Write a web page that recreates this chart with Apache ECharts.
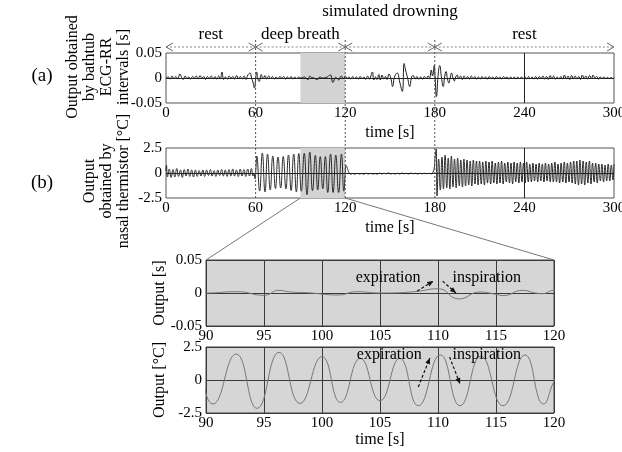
<!DOCTYPE html>
<html>
<head>
<meta charset="utf-8">
<script src="https://cdn.jsdelivr.net/npm/echarts@6/dist/echarts.min.js"></script>
<style>
html, body { margin: 0; padding: 0; background: #fff; }
#chart { width: 622px; height: 452px; }
</style>
</head>
<body>
<div id="chart"></div>
<script>
// experiment phases [s]
var phaseBounds = [0, 60, 120, 180, 300];
var phaseNames = ['rest', 'deep breath', '', 'rest'];
var zoomRange = [90, 120];

// ECG-RR interval output [s], pairs of [time s, value s]
var rrRest = [[0,0],[1.5,0.002],[2.8,-0.002],[4.0,0.004],[5.2,-0.001],[6.5,0.003],[7.8,-0.002],[9.3,0.008],[10.5,0.001],
  [11.5,-0.003],[12.8,0.004],[14,-0.001],[15.2,0.002],[16.5,-0.002],[17.8,0.003],[19.0,0.0],[20.3,0.004],[21.5,-0.002],
  [22.8,0.005],[24,0.0],[25.3,0.003],[26.5,-0.003],[27.8,0.003],[29,-0.001],[30.3,0.004],[31.5,-0.002],[32.8,0.003],
  [34,-0.002],[35.3,0.004],[36.3,-0.002],[37.5,0.012],[38.6,-0.003],[39.8,0.002],[41,-0.002],[42.3,0.004],[43.5,0.0],
  [44.8,0.003],[46,-0.002],[47.3,0.005],[48.5,-0.001],[49.8,0.003],[51,-0.002],[52.3,0.004],[53.5,-0.003],[54.8,0.006],
  [56.3,0.01],[57.3,0.0],[58.2,-0.008],[59.2,-0.02]];
var rrDeep = [[60.1,0.0],[60.7,0.012],[61.6,-0.002],[62.4,-0.007],[63.8,0.007],[65,-0.002],[66.3,0.005],[67.5,-0.002],
  [68.8,0.004],[70,-0.001],[71.3,0.003],[72.5,-0.002],[73.8,0.002],[75,-0.002],[76.3,0.003],[77.5,0.0],[78.8,0.003],
  [80,-0.002],[81.3,0.002],[82.5,-0.001],[83.8,0.003],[85,-0.002],[86.3,0.002],[87.5,-0.001],[88.8,0.002],
  [90,0.0],[92.7,0.002],[95.0,-0.0035],[96.3,0.004],[97.3,0.0015],[98.7,0.0005],[101.4,-0.003],[103.0,0.002],
  [105.0,0.0],[108.0,0.002],[110.0,0.0065],[111.8,-0.009],[113.6,0.0015],[115.0,-0.002],[115.6,-0.004],[117.3,0.004],
  [118.4,0.0],[119.0,-0.001],[120.0,0.004]];
var rrDrown = [[121.3,-0.001],[122.5,0.002],[123.8,-0.002],[125,0.003],[126.3,-0.001],[127.5,0.002],[128.8,-0.002],
  [130,0.003],[131.3,-0.001],[132.5,0.002],[133.8,-0.003],[135,0.004],[136.3,-0.002],[137.2,0.004],[138.2,0.012],
  [139.2,-0.004],[140.3,0.002],[141.3,-0.003],[142.5,0.007],[143.5,-0.004],[144.7,0.006],[145.8,-0.002],[147,0.003],
  [148,-0.003],[149.3,0.008],[150.5,0.0],[151.8,-0.017],[153,0.002],[154.8,0.01],[156.5,-0.008],[158.2,-0.027],
  [159.5,0.029],[160.4,0.016],[161.8,0.0],[163.2,-0.017],[164.5,0.002],[165.5,0.005],[166.8,-0.002],[168,0.003],
  [169.3,-0.002],[170.5,0.002],[171.8,-0.002],[173,0.003],[174.3,-0.001],[175.5,0.004],[176.5,0.0],[177.6,0.016],
  [178.5,0.004],[179.6,0.025]];
var rrRecovery = [[180.2,0.0],[181.1,-0.037],[182.2,0.005],[183.3,0.025],[184.5,0.0],[185.6,-0.017],[186.6,0.002],
  [187.5,0.013],[188.5,-0.002],[189.4,-0.01],[190.4,0.002],[191.2,0.01],[192.2,0.0],[193.1,-0.006],[194,0.002],
  [195,0.006],[196,-0.002],[197.2,0.004],[198.4,-0.003],[199.6,0.004],[200.8,-0.002],[202,0.003],[203.2,-0.002],
  [204.4,0.004],[205.6,-0.002],[206.8,0.003],[208,-0.002],[209.2,0.002],[210.4,-0.002],[211.6,0.003],[212.8,-0.001],
  [214,0.002],[215.2,-0.002],[216.4,0.003],[217.6,-0.001],[218.8,0.002],[220,-0.002],[221.2,0.003],[222.4,-0.001],
  [223.6,0.002],[224.8,-0.002],[226,0.003],[227.2,0.0],[228.4,0.002],[229.6,-0.002],[230.8,0.002],[232,-0.001],
  [233.2,0.002],[234.4,-0.002],[235.6,0.002],[236.8,-0.001],[238,0.002],[239.2,-0.001],[240.4,0.002],[241.6,-0.002],
  [242.8,0.003],[244,-0.001],[245.2,0.002],[246.4,-0.002],[247.6,0.003],[248.8,-0.002],[250,0.003],[251.2,-0.001],
  [252.4,0.004],[253.6,-0.002],[254.8,0.003],[256,-0.003],[257.2,0.005],[258.4,-0.001],[259.6,0.004],[260.8,-0.002],
  [262,0.002],[263.2,-0.002],[264.4,0.003],[265.6,-0.002],[266.8,0.006],[268,-0.002],[269.2,0.004],[270.4,-0.003],
  [271.6,0.005],[272.8,-0.001],[274,0.004],[275.2,-0.002],[276.4,0.003],[277.6,-0.003],[278.8,0.006],[280,-0.001],
  [281.2,0.004],[282.4,-0.002],[283.6,0.005],[284.8,-0.002],[286,0.006],[287.2,0.0],[288.4,0.003],[289.6,-0.002],
  [290.8,0.002],[292,-0.001],[293.2,0.002],[294.4,-0.001],[295.6,0.001],[296.8,-0.001],[298,0.001],[299.2,-0.001],[300,0.0]];

// nasal thermistor output [degC], pairs of [time s, value]
var thermRest = [[0,0.2],[0.3,0.8],[1.0,-0.4],[2.2,0.4],[3.4,-0.45],[4.7,0.35],[5.9,-0.4],[7.2,0.45],[8.4,-0.35],
  [9.7,0.3],[10.9,-0.45],[12.2,0.35],[13.4,-0.3],[14.7,0.4],[15.9,-0.35],[17.2,0.3],[18.4,-0.4],[19.7,0.3],[20.9,-0.35],
  [22.2,0.25],[23.4,-0.3],[24.7,0.3],[25.9,-0.35],[27.2,0.3],[28.4,-0.25],[29.7,0.35],[30.9,-0.3],[32.2,0.25],
  [33.4,-0.35],[34.7,0.3],[35.9,-0.25],[37.2,0.35],[38.4,-0.3],[39.7,0.3],[40.9,-0.35],[42.2,0.35],[43.4,-0.3],
  [44.7,0.4],[45.9,-0.3],[47.2,0.3],[48.4,-0.35],[49.7,0.4],[50.9,-0.3],[52.2,0.35],[53.4,-0.35],[54.7,0.4],
  [55.9,-0.3],[57.2,0.45],[58.3,-0.3],[58.9,0.0],[59.6,-0.6]];
var thermDeep = [[60.2,0.4],[60.8,1.7],[62.7,-1.8],[64.5,2.0],[66.3,-1.9],[68.0,1.9],[69.8,-1.7],[71.5,1.7],[73.3,-1.55],
  [75.0,1.6],[76.8,-1.5],[78.5,1.65],[80.3,-1.6],[82.0,1.8],[83.8,-1.75],[85.5,1.9],[87.3,-1.9],[88.9,1.95],
  [90.6,-1.82],[92.6,1.97],[94.4,-2.15],[96.3,2.1],[98.1,-1.77],[100.0,1.77],[101.6,-1.7],[103.3,1.64],[105.0,-1.57],
  [106.7,1.64],[108.3,-1.95],[110.2,1.9],[111.9,-1.95],[113.7,1.8],[115.6,-1.95],[117.5,1.9],[119.1,-1.82],[120.0,-0.1]];
var thermDrown = [[120.6,0.75],[121.5,0.45],[122.6,0.05],[123.8,-0.12],[125.0,-0.05],[126.5,-0.12],[128,-0.03],
  [129.5,-0.1],[131,-0.05],[132.5,-0.12],[134,-0.02],[135.5,-0.1],[137,-0.04],[138.5,-0.1],[140,-0.06],[141.5,-0.12],
  [143,0.0],[144.5,-0.1],[146,-0.03],[147.5,-0.08],[149,0.02],[150.5,-0.1],[152,-0.04],[153.5,-0.1],[155,-0.02],
  [156.5,-0.1],[158,0.0],[159.5,-0.08],[161,-0.03],[162.5,-0.1],[164,0.0],[165.5,-0.08],[167,-0.02],[168.5,-0.1],
  [170,-0.03],[171.5,-0.08],[173,-0.02],[174.5,-0.08],[176,-0.03],[177.5,-0.08],[178.8,0.1],[179.6,0.5]];
var thermRecovery = [[180.2,1.6],[180.9,2.4],[181.5,-2.3],[182.6,1.4],[183.7,-1.7],[184.8,1.6],[185.8,-1.6],[186.9,1.8],
  [188.0,-1.5],[189.0,1.5],[190.1,-1.6],[191.1,1.7],[192.2,-1.4],[193.2,1.4],[194.3,-1.5],[195.3,1.5],[196.4,-1.3],
  [197.4,1.3],[198.5,-1.4],[199.5,1.4],[200.6,-1.3],[201.6,1.3],[202.7,-1.2],[203.7,1.2],[204.8,-1.3],[205.8,1.3],
  [206.9,-1.1],[207.9,1.2],[209.0,-1.2],[210.0,1.2],[211.1,-1.1],[212.1,1.1],[213.2,-1.2],[214.2,1.2],[215.3,-1.0],
  [216.3,1.1],[217.4,-1.1],[218.4,1.2],[219.5,-1.0],[220.5,1.0],[221.6,-1.1],[222.6,1.1],[223.7,-1.0],[224.7,1.2],
  [225.8,-1.1],[226.8,1.0],[227.9,-0.9],[228.9,1.1],[230.0,-1.0],[231.0,1.0],[232.1,-1.1],[233.1,1.1],[234.2,-0.9],
  [235.2,1.0],[236.3,-1.0],[237.3,1.1],[238.4,-0.9],[239.4,1.0],[240.5,-1.0],[241.5,1.1],[242.6,-0.9],[243.6,0.9],
  [244.7,-0.9],[245.7,1.0],[246.8,-0.8],[247.8,0.9],[248.9,-0.9],[249.9,1.0],[251.0,-0.8],[252.0,0.9],[253.1,-0.9],
  [254.1,1.0],[255.2,-0.8],[256.2,0.9],[257.3,-0.9],[258.3,1.0],[259.4,-0.9],[260.4,1.1],[261.5,-0.9],[262.5,0.9],
  [263.6,-1.0],[264.6,1.0],[265.7,-0.9],[266.7,1.1],[267.8,-1.0],[268.8,1.0],[269.9,-0.9],[270.9,1.1],[272.0,-1.0],
  [273.0,1.2],[274.1,-1.1],[275.1,1.2],[276.2,-1.2],[277.2,1.3],[278.3,-1.1],[279.3,1.2],[280.4,-1.2],[281.4,1.1],
  [282.5,-1.0],[283.5,1.2],[284.6,-1.1],[285.6,1.0],[286.7,-0.9],[287.7,1.0],[288.8,-1.0],[289.8,0.9],[290.9,-0.8],
  [291.9,0.9],[293.0,-0.9],[294.0,0.8],[295.1,-0.8],[296.1,0.9],[297.2,-0.8],[298.2,0.8],[299.3,-0.7],[300,0.9]];

// annotation anchors in zoomed data coords: [t, v]
var rrExpArrow = [[108.2, 0.003], [109.6, 0.018]];
var rrInspArrow = [[110.4, 0.018], [111.55, 0.0]];
var thermExpArrow = [[108.3, -0.53], [109.3, 1.67]];
var thermInspArrow = [[111.0, 1.74], [111.9, -0.3]];

var rrData = rrRest.concat(rrDeep, rrDrown, rrRecovery);
var thermData = thermRest.concat(thermDeep, thermDrown, thermRecovery);

var FONT = '"Liberation Serif", "DejaVu Serif", serif';
var chart = echarts.init(document.getElementById('chart'));

function xAxisOf(grid, min, max, step, nameGap) {
  return {
    type: 'value', gridIndex: grid, min: min, max: max, interval: step,
    axisLine: { show: false }, axisTick: { show: false },
    axisLabel: { color: '#000', fontFamily: FONT, fontSize: 15, margin: 3 },
    splitLine: { show: grid >= 2, lineStyle: { color: '#3a3a3a', width: 1 } },
    name: nameGap ? 'time [s]' : '', nameLocation: 'middle', nameGap: nameGap || 0,
    nameTextStyle: { color: '#000', fontFamily: FONT, fontSize: 16 }
  };
}
function yAxisOf(grid, lim) {
  return {
    type: 'value', gridIndex: grid, min: -lim, max: lim, interval: lim,
    axisLine: { show: false }, axisTick: { show: false },
    axisLabel: { color: '#000', fontFamily: FONT, fontSize: 15, margin: 4 },
    splitLine: { show: grid >= 2, lineStyle: { color: '#3a3a3a', width: 1 } }
  };
}
var markLines = {
  silent: true, symbol: 'none', label: { show: false },
  lineStyle: { color: '#222', width: 1, type: 'solid' },
  data: [{ yAxis: 0 }, { xAxis: 240 }]
};
var shade = {
  silent: true, itemStyle: { color: '#d3d3d3' },
  data: [[{ xAxis: zoomRange[0] }, { xAxis: zoomRange[1] }]]
};

chart.setOption({
  animation: false,
  grid: [
    { left: 166, top: 53, width: 448, height: 50, show: true, borderColor: '#555', borderWidth: 1, outerBoundsMode: 'none' },
    { left: 166, top: 148, width: 448, height: 50, show: true, borderColor: '#555', borderWidth: 1, outerBoundsMode: 'none' },
    { left: 206, top: 260, width: 348, height: 66, show: true, backgroundColor: '#d6d6d6', borderColor: '#444', borderWidth: 1, outerBoundsMode: 'none' },
    { left: 206, top: 347, width: 348, height: 66, show: true, backgroundColor: '#d6d6d6', borderColor: '#444', borderWidth: 1, outerBoundsMode: 'none' }
  ],
  xAxis: [
    xAxisOf(0, 0, 300, 60, 22),
    xAxisOf(1, 0, 300, 60, 22),
    xAxisOf(2, zoomRange[0], zoomRange[1], 5, 0),
    xAxisOf(3, zoomRange[0], zoomRange[1], 5, 19)
  ],
  yAxis: [yAxisOf(0, 0.05), yAxisOf(1, 2.5), yAxisOf(2, 0.05), yAxisOf(3, 2.5)],
  series: [
    { type: 'line', xAxisIndex: 0, yAxisIndex: 0, data: rrData, smooth: true, showSymbol: false,
      lineStyle: { color: '#1a1a1a', width: 1 }, markLine: markLines, markArea: shade },
    { type: 'line', xAxisIndex: 1, yAxisIndex: 1, data: thermData, smooth: true, showSymbol: false,
      lineStyle: { color: '#2a2a2a', width: 1 }, markLine: markLines, markArea: shade },
    { type: 'line', xAxisIndex: 2, yAxisIndex: 2, data: rrData, smooth: true, showSymbol: false,
      lineStyle: { color: '#777', width: 1 }, z: 5 },
    { type: 'line', xAxisIndex: 3, yAxisIndex: 3, data: thermData, smooth: true, showSymbol: false,
      lineStyle: { color: '#777', width: 1 }, z: 5 }
  ]
});

function txt(str, x, y, size, rot) {
  return { type: 'text', x: x, y: y, rotation: rot || 0, z: 100,
    style: { text: str, font: size + 'px ' + FONT, fill: '#000',
      align: 'center', verticalAlign: 'middle', textAlign: 'center', textVerticalAlign: 'middle' } };
}
function arrowHeadPts(x0, y0, x1, y1, len, half) {
  var a = Math.atan2(y1 - y0, x1 - x0);
  return [
    [x1 - len * Math.cos(a) + half * Math.sin(a), y1 - len * Math.sin(a) - half * Math.cos(a)],
    [x1, y1],
    [x1 - len * Math.cos(a) - half * Math.sin(a), y1 - len * Math.sin(a) + half * Math.cos(a)]
  ];
}
function dashedArrow(grid, pts) {
  var p0 = chart.convertToPixel({ gridIndex: grid }, pts[0]);
  var p1 = chart.convertToPixel({ gridIndex: grid }, pts[1]);
  return [
    { type: 'line', z: 100, shape: { x1: p0[0], y1: p0[1], x2: p1[0], y2: p1[1] },
      style: { stroke: '#111', lineWidth: 1.2, lineDash: [3, 2] } },
    { type: 'polygon', z: 100, shape: { points: arrowHeadPts(p0[0], p0[1], p1[0], p1[1], 6, 2.5) },
      style: { fill: '#111' } }
  ];
}

var g = [];
var yArrow = 47;
var bBottom = chart.convertToPixel({ gridIndex: 1 }, [0, -2.5])[1];
for (var i = 0; i < phaseBounds.length - 1; i++) {
  var xa = chart.convertToPixel({ xAxisIndex: 0 }, phaseBounds[i]);
  var xb = chart.convertToPixel({ xAxisIndex: 0 }, phaseBounds[i + 1]);
  g.push({ type: 'line', shape: { x1: xa, y1: yArrow, x2: xb, y2: yArrow }, style: { stroke: '#888', lineWidth: 1, lineDash: [2, 2] } });
  g.push({ type: 'polyline', shape: { points: arrowHeadPts(xb, yArrow, xa, yArrow, 7, 4) }, style: { stroke: '#666', fill: null, lineWidth: 1 } });
  g.push({ type: 'polyline', shape: { points: arrowHeadPts(xa, yArrow, xb, yArrow, 7, 4) }, style: { stroke: '#666', fill: null, lineWidth: 1 } });
  if (phaseNames[i]) g.push(txt(phaseNames[i], (xa + xb) / 2, 35, 17));
  if (i > 0) {
    g.push({ type: 'line', z: 50, shape: { x1: xa, y1: 40, x2: xa, y2: bBottom },
      style: { stroke: '#555', lineWidth: 1, lineDash: [2, 2] } });
  }
}
g.push(txt('simulated drowning', 390, 12, 17));

// shaded window connectors down to the zoomed panels
var c0 = chart.convertToPixel({ gridIndex: 1 }, [zoomRange[0], -2.5]);
var c1 = chart.convertToPixel({ gridIndex: 1 }, [zoomRange[1], -2.5]);
var d0 = chart.convertToPixel({ gridIndex: 2 }, [zoomRange[0], 0.05]);
var d1 = chart.convertToPixel({ gridIndex: 2 }, [zoomRange[1], 0.05]);
g.push({ type: 'line', shape: { x1: c0[0], y1: c0[1], x2: d0[0], y2: d0[1] }, style: { stroke: '#777', lineWidth: 1 } });
g.push({ type: 'line', shape: { x1: c1[0], y1: c1[1], x2: d1[0], y2: d1[1] }, style: { stroke: '#777', lineWidth: 1 } });

// panel labels
g.push(txt('(a)', 42, 76, 19));
g.push(txt('(b)', 42, 183, 19));
var aLines = ['Output obtained', 'by bathtub', 'ECG-RR', 'intervals [s]'];
for (var k = 0; k < aLines.length; k++) g.push(txt(aLines[k], 73 + 17 * k, 67, 16, Math.PI / 2));
var bLines = ['Output', 'obtained by', 'nasal thermistor [°C]'];
for (var m = 0; m < bLines.length; m++) g.push(txt(bLines[m], 90 + 17 * m, 181, 16, Math.PI / 2));
g.push(txt('Output [s]', 160, 293, 16, Math.PI / 2));
g.push(txt('Output [°C]', 160, 380, 16, Math.PI / 2));

// expiration / inspiration notes
var e1 = chart.convertToPixel({ gridIndex: 2 }, [105.7, 0.0225]);
var i1 = chart.convertToPixel({ gridIndex: 2 }, [114.2, 0.0225]);
var e2 = chart.convertToPixel({ gridIndex: 3 }, [105.8, 1.9]);
var i2 = chart.convertToPixel({ gridIndex: 3 }, [114.2, 1.9]);
g.push(txt('expiration', e1[0], e1[1], 16), txt('inspiration', i1[0], i1[1], 16));
g.push(txt('expiration', e2[0], e2[1], 16), txt('inspiration', i2[0], i2[1], 16));
g = g.concat(dashedArrow(2, rrExpArrow), dashedArrow(2, rrInspArrow),
  dashedArrow(3, thermExpArrow), dashedArrow(3, thermInspArrow));

chart.setOption({ graphic: { elements: g } });
</script>
</body>
</html>
